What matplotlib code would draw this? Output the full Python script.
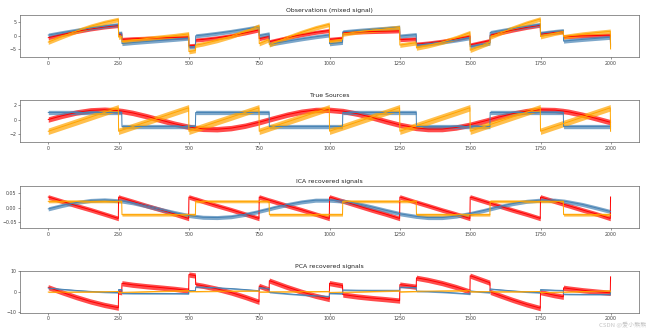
import matplotlib
matplotlib.use("Agg")
import matplotlib.pyplot as plt
import numpy as np

# sample index of each knot (pairs of neighbouring indices mark the jumps)
samples = [0, 50, 100, 150, 200, 249, 250, 261, 262, 300, 350, 400, 450, 499, 500,
           523, 524, 550, 600, 650, 700, 749, 750, 785, 786, 800, 850, 900, 950, 999,
           1000, 1046, 1047, 1100, 1150, 1200, 1249, 1250, 1308, 1309, 1350, 1400, 1450,
           1499, 1500, 1550, 1570, 1571, 1600, 1650, 1700, 1749, 1750, 1800, 1831, 1832,
           1850, 1900, 1950, 1998, 1999]

# --- observations (mixed signal) ---
obs_red = [-0.66, 0.53, 1.63, 2.58, 3.33, 3.85, 0.58, 0.67, -1.28, -1.04, -0.86, -0.73,
           -0.59, -0.37, -3.65, -3.49, -1.52, -1.30, -0.69, 0.11, 1.11, 2.22, -1.04, -0.20,
           -2.13, -1.80, -0.62, 0.43, 1.33, 2.00, -1.27, -0.83, 1.14, 1.45, 1.62, 1.73, 1.88,
           -1.40, -1.07, -3.02, -2.63, -1.97, -1.10, -0.07, -3.33, -2.17, -1.70, 0.28, 0.98,
           2.13, 3.15, 3.97, 0.70, 1.32, 1.59, -0.36, -0.23, 0.01, 0.15, 0.27, -3.01]
obs_blue = [0.32, 1.25, 2.12, 2.93, 3.63, 4.21, 0.94, 1.06, -2.85, -2.48, -2.07, -1.67,
            -1.27, -0.84, -4.12, -3.88, 0.05, 0.33, 0.97, 1.69, 2.52, 3.40, 0.13, 0.78,
            -3.12, -2.86, -1.94, -1.09, -0.31, 0.35, -2.92, -2.40, 1.53, 2.04, 2.45, 2.83,
            3.23, -0.05, 0.50, -3.41, -2.95, -2.29, -1.53, -0.69, -3.95, -3.04, -2.68, 1.26,
            1.80, 2.71, 3.55, 4.28, 1.01, 1.65, 1.98, -1.93, -1.75, -1.30, -0.90, -0.52, -3.80]
obs_orange = [-2.30, -0.19, 1.79, 3.55, 5.00, 6.10, -0.44, -0.23, -2.17, -1.56, -0.97,
              -0.44, 0.10, 0.75, -5.81, -5.41, -3.43, -2.93, -1.69, -0.16, 1.67, 3.66,
              -2.87, -1.38, -3.29, -2.70, -0.60, 1.30, 2.98, 4.31, -2.23, -1.27, 0.71, 1.53,
              2.11, 2.60, 3.15, -3.41, -2.53, -4.47, -3.62, -2.30, -0.67, 1.21, -5.32, -3.25,
              -2.42, -0.42, 0.82, 2.88, 4.74, 6.29, -0.26, 1.01, 1.61, -0.33, -0.02, 0.68,
              1.22, 1.71, -4.85]

# --- true sources ---
src_sine = [0.00, 0.53, 0.98, 1.27, 1.36, 1.24, 1.24, 1.18, 1.18, 0.92, 0.45, -0.08, -0.60,
            -1.02, -1.03, -1.18, -1.18, -1.30, -1.35, -1.20, -0.86, -0.39, -0.38, 0.00, 0.01,
            0.16, 0.68, 1.08, 1.32, 1.35, 1.34, 1.18, 1.18, 0.79, 0.30, -0.24, -0.74, -0.75,
            -1.18, -1.18, -1.33, -1.33, -1.11, -0.73, -0.72, -0.22, -0.01, 0.00, 0.32, 0.81,
            1.17, 1.35, 1.35, 1.31, 1.18, 1.17, 1.07, 0.65, 0.13, -0.38, -0.39]
src_square = [0.98, 0.98, 0.98, 0.98, 0.98, 0.98, 0.98, 0.98,
              -0.98, -0.98, -0.98, -0.98, -0.98, -0.98, -0.98, -0.98,
              0.98, 0.98, 0.98, 0.98, 0.98, 0.98, 0.98, 0.98,
              -0.98, -0.98, -0.98, -0.98, -0.98, -0.98, -0.98, -0.98,
              0.98, 0.98, 0.98, 0.98, 0.98, 0.98, 0.98,
              -0.98, -0.98, -0.98, -0.98, -0.98, -0.98, -0.98, -0.98,
              0.98, 0.98, 0.98, 0.98, 0.98, 0.98, 0.98, 0.98,
              -0.98, -0.98, -0.98, -0.98, -0.98, -0.98]
src_saw = [-1.64, -0.98, -0.33, 0.33, 0.99, 1.63, -1.64, -1.49, -1.48, -0.98, -0.33, 0.33,
           0.99, 1.63, -1.64, -1.33, -1.32, -0.98, -0.32, 0.33, 0.99, 1.63, -1.64, -1.18,
           -1.16, -0.98, -0.32, 0.33, 0.99, 1.63, -1.63, -1.03, -1.02, -0.32, 0.34, 0.99,
           1.64, -1.63, -0.87, -0.86, -0.32, 0.34, 0.99, 1.64, -1.63, -0.97, -0.71, -0.70,
           -0.32, 0.34, 1.00, 1.64, -1.63, -0.97, -0.57, -0.55, -0.32, 0.34, 1.00, 1.63, -1.64]

# --- ICA recovered signals ---
ica_red = [0.037, 0.022, 0.007, -0.007, -0.022, -0.037, 0.037, 0.033, 0.033, 0.022, 0.007,
           -0.007, -0.022, -0.037, 0.037, 0.030, 0.030, 0.022, 0.007, -0.007, -0.022, -0.037,
           0.037, 0.026, 0.026, 0.022, 0.007, -0.007, -0.022, -0.037, 0.037, 0.023, 0.023,
           0.007, -0.008, -0.022, -0.037, 0.037, 0.019, 0.019, 0.007, -0.008, -0.022, -0.037,
           0.037, 0.022, 0.016, 0.016, 0.007, -0.008, -0.022, -0.037, 0.037, 0.022, 0.013,
           0.012, 0.007, -0.008, -0.022, -0.037, 0.037]
ica_blue = [-0.004, 0.008, 0.018, 0.025, 0.027, 0.024, 0.024, 0.023, 0.023, 0.017, 0.006,
            -0.006, -0.017, -0.027, -0.027, -0.030, -0.030, -0.033, -0.034, -0.031, -0.023,
            -0.013, -0.012, -0.004, -0.004, 0.000, 0.011, 0.020, 0.026, 0.026, 0.026, 0.023,
            0.023, 0.014, 0.003, -0.009, -0.020, -0.021, -0.030, -0.030, -0.034, -0.034,
            -0.029, -0.020, -0.020, -0.009, -0.004, -0.004, 0.003, 0.014, 0.022, 0.026, 0.026,
            0.026, 0.023, 0.023, 0.020, 0.011, -0.001, -0.013, -0.013]
ica_orange = [0.022, 0.022, 0.022, 0.022, 0.022, 0.022, 0.022, 0.022,
              -0.024, -0.024, -0.024, -0.024, -0.024, -0.024, -0.024, -0.024,
              0.022, 0.022, 0.022, 0.022, 0.022, 0.022, 0.022, 0.022,
              -0.024, -0.024, -0.024, -0.024, -0.024, -0.024, -0.024, -0.024,
              0.022, 0.022, 0.022, 0.022, 0.022, 0.022, 0.022,
              -0.024, -0.024, -0.024, -0.024, -0.024, -0.024, -0.024, -0.024,
              0.022, 0.022, 0.022, 0.022, 0.022, 0.022, 0.022, 0.022,
              -0.024, -0.024, -0.024, -0.024, -0.024, -0.024]

# --- PCA recovered signals ---
pca_red = [2.12, -0.41, -2.77, -4.87, -6.61, -7.94, -0.08, -0.34, 4.08, 3.34, 2.61, 1.97,
           1.31, 0.52, 8.39, 7.91, 3.45, 2.84, 1.35, -0.48, -2.67, -5.04, 2.79, 1.01, 5.39,
           4.69, 2.18, -0.09, -2.10, -3.69, 4.15, 3.00, -1.47, -2.46, -3.17, -3.77, -4.44,
           3.43, 2.37, 6.78, 5.75, 4.17, 2.21, -0.02, 7.81, 5.34, 4.34, -0.14, -1.62, -4.08,
           -6.30, -8.16, -0.30, -1.82, -2.55, 1.86, 1.49, 0.65, -0.01, -0.62, 7.25]
pca_blue = [1.72, 1.12, 0.56, 0.09, -0.26, -0.49, 1.02, 0.99, -0.84, -0.93, -0.96, -0.97,
            -0.98, -1.04, 0.48, 0.42, 2.24, 2.15, 1.87, 1.49, 0.99, 0.43, 1.94, 1.51, -0.33,
            -0.50, -1.10, -1.63, -2.07, -2.38, -0.86, -1.05, 0.77, 0.67, 0.64, 0.64, 0.62,
            2.14, 2.03, 0.20, 0.04, -0.27, -0.70, -1.21, 0.30, -0.29, -0.53, 1.29, 0.93, 0.35,
            -0.16, -0.56, 0.96, 0.67, 0.56, -1.27, -1.32, -1.39, -1.40, -1.40, 0.12]
pca_orange = [-0.24, -0.23, -0.21, -0.16, -0.08, 0.04, -0.45, -0.42, -0.36, -0.24, -0.07,
              0.12, 0.31, 0.47, -0.02, 0.05, 0.00, 0.07, 0.18, 0.25, 0.29, 0.31, -0.18,
              -0.18, -0.12, -0.12, -0.10, -0.07, -0.01, 0.08, -0.41, -0.29, -0.35, -0.18,
              0.00, 0.19, 0.37, -0.12, 0.07, 0.13, 0.23, 0.33, 0.39, 0.43, -0.07, -0.05,
              -0.05, -0.10, -0.10, -0.08, -0.04, 0.02, -0.47, -0.36, -0.28, -0.22, -0.17,
              0.00, 0.19, 0.37, -0.12]

titles = ["Observations (mixed signal)", "True Sources",
          "ICA recovered signals", "PCA recovered signals"]
x_ticks = [0, 250, 500, 750, 1000, 1250, 1500, 1750, 2000]
y_ticks = [[-5, 0, 5], [-2, 0, 2], [-0.05, 0.0, 0.05], [-10, 0, 10]]
colors = ["red", "steelblue", "orange"]

panels = [
    (obs_red, obs_blue, obs_orange),
    (src_sine, src_square, src_saw),
    (ica_red, ica_blue, ica_orange),
    (pca_red, pca_blue, pca_orange),
]

# drawing styles per panel
y_limits = [(-7.8, 7.8), (-3.15, 2.7), (-0.070, 0.075), (-10.5, 10.2)]
band_half = [(0.75, 0.75, 0.85), (0.38, 0.3, 0.45), (0.008, 0.007, 0.005), (1.3, 0.35, 0.25)]
bottoms = [0.827, 0.568, 0.307, 0.049]

fig = plt.figure(figsize=(6.5, 3.29), dpi=100)
x = np.array(samples)

for k, (series, title) in enumerate(zip(panels, titles)):
    ax = fig.add_axes([0.031, bottoms[k], 0.952, 0.1277])
    for sig, color, h in zip(series, colors, band_half[k]):
        y = np.array(sig)
        ax.fill_between(x, y - h, y + h, color=color, alpha=0.7, lw=0)
        ax.plot(x, y, color=color, lw=0.7)
    ax.set_title(title, fontsize=4.4, pad=2.2, color="#222222")
    ax.set_xlim(-100, 2100)
    ax.set_ylim(*y_limits[k])
    ax.set_xticks(x_ticks)
    ax.set_yticks(y_ticks[k])
    if k == 2:
        ax.set_yticklabels(["\u22120.05", "0.00", "0.05"])
    ax.tick_params(labelsize=3.4, length=1.3, width=0.4, pad=1.3, colors="#444444")
    for sp in ax.spines.values():
        sp.set_linewidth(0.5)
        sp.set_color("#666666")

fig.text(0.994, 0.004, "CSDN @爱小熊熊", ha="right", va="bottom", fontsize=4.3,
         color="#c4c4c4", family=["Noto Sans CJK SC", "DejaVu Sans"])

fig.savefig("out.png", dpi=100)
